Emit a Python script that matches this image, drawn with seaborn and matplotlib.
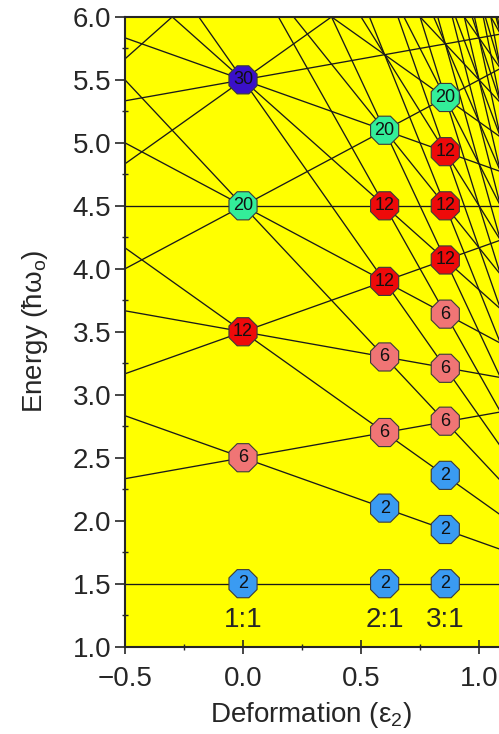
import matplotlib
matplotlib.use("Agg")
import matplotlib.pyplot as plt
from matplotlib.ticker import MultipleLocator, FuncFormatter
import numpy as np
import pandas as pd
import seaborn as sns

# == LEVEL LINES: energy at zero deformation and slope dE/d(eps) ==
line_e0 = [1.5,
           2.5, 2.5,
           3.5, 3.5, 3.5,
           4.5, 4.5, 4.5, 4.5,
           5.5, 5.5, 5.5, 5.5, 5.5,
           6.5, 6.5, 6.5, 6.5,
           7.5, 7.5, 7.5,
           8.5, 8.5, 8.5,
           9.5, 9.5, 9.5,
           10.5, 10.5, 10.5,
           11.5, 11.5,
           12.5, 12.5,
           13.5, 13.5,
           14.5, 14.5,
           15.5, 16.5, 17.5, 18.5, 19.5]
line_slope = [0.0,
              -0.667, 0.333,
              -1.333, -0.333, 0.667,
              -2.0, -1.0, 0.0, 1.0,
              -2.667, -1.667, -0.667, 0.333, 1.333,
              -3.333, -2.333, -1.333, 1.667,
              -4.0, -3.0, -2.0,
              -4.667, -3.667, -2.667,
              -5.333, -4.333, -3.333,
              -6.0, -5.0, -4.0,
              -6.667, -5.667,
              -7.333, -6.333,
              -8.0, -7.0,
              -8.667, -7.667,
              -9.333, -10.0, -10.667, -11.333, -12.0]

# == SHELL MARKERS ==
circle_eps = [0.0, 0.0, 0.0, 0.0, 0.0,
              0.6, 0.6, 0.6, 0.6, 0.6, 0.6, 0.6,
              0.857, 0.857, 0.857, 0.857, 0.857, 0.857, 0.857, 0.857, 0.857, 0.857]
circle_E = [1.5, 2.5, 3.5, 4.5, 5.5,
            1.5, 2.1, 2.7, 3.3, 3.9, 4.5, 5.1,
            1.5, 1.93, 2.36, 2.79, 3.21, 3.64, 4.07, 4.5, 4.93, 5.36]
circle_count = [2, 6, 12, 20, 30,
                2, 2, 6, 6, 12, 12, 20,
                2, 2, 2, 6, 6, 6, 12, 12, 12, 20]
count_colors = {2: "#3a9bf2", 6: "#f07575", 12: "#ee0a0a", 20: "#33ee99", 30: "#3a10c8"}

ratio_eps = [0.0, 0.6, 0.857]
ratio_labels = ["1:1", "2:1", "3:1"]

sns.set_style("ticks")
plt.rcParams["font.family"] = ["Liberation Sans", "DejaVu Sans"]
plt.rcParams["mathtext.default"] = "regular"

fig = plt.figure(figsize=(4.99, 7.34), dpi=100)
# axes run past the right edge of the figure, as in the cropped original
ax = fig.add_axes([0.2505, 0.119, 0.946, 0.858])
ax.set_facecolor("#ffff00")

x_ends = [-0.5, 1.5]
rows = []
for i, (e0, k) in enumerate(zip(line_e0, line_slope)):
    for x in x_ends:
        rows.append({"line": i, "eps": x, "E": e0 + k * x})
lines_df = pd.DataFrame(rows)

sns.lineplot(data=lines_df, x="eps", y="E", units="line", estimator=None,
             sort=False, color="#1a1a1a", lw=0.95, ax=ax, zorder=2)

circ_df = pd.DataFrame({"eps": circle_eps, "E": circle_E, "count": circle_count})
sns.scatterplot(data=circ_df, x="eps", y="E", hue="count", palette=count_colors,
                marker="8", s=480, edgecolor="#3a3a3a", linewidth=0.8,
                legend=False, ax=ax, zorder=3)
for x, y, c in zip(circle_eps, circle_E, circle_count):
    ax.text(x, y, str(c), ha="center", va="center", fontsize=13,
            color="#111111", zorder=4)

for x, lab in zip(ratio_eps, ratio_labels):
    ax.text(x, 1.21, lab, ha="center", va="center", fontsize=20, zorder=4)

ax.set_xlim(-0.5, 1.5)
ax.set_ylim(1.0, 6.0)
ax.xaxis.set_major_locator(MultipleLocator(0.5))
ax.xaxis.set_minor_locator(MultipleLocator(0.25))
ax.yaxis.set_major_locator(MultipleLocator(0.5))
ax.yaxis.set_minor_locator(MultipleLocator(0.25))
fmt = FuncFormatter(lambda v, p: f"{v:.1f}".replace("-", "\u2212"))
ax.xaxis.set_major_formatter(fmt)
ax.yaxis.set_major_formatter(fmt)
ax.tick_params(axis="x", which="major", labelsize=20, width=1.2, length=10,
               direction="inout", pad=9)
ax.tick_params(axis="y", which="major", labelsize=20, width=1.2, length=7,
               direction="out", pad=3)
ax.tick_params(axis="both", which="minor", width=1.0, length=5, direction="inout")
for s in ax.spines.values():
    s.set_linewidth(1.5)
    s.set_visible(True)

ax.set_xlabel(r"Deformation (ε$_2$)", fontsize=20, labelpad=4)
ax.xaxis.set_label_coords(0.394, -0.085)
ax.set_ylabel(r"Energy (ħω$_o$)", fontsize=20, labelpad=16)

fig.savefig("out.png", dpi=100)
